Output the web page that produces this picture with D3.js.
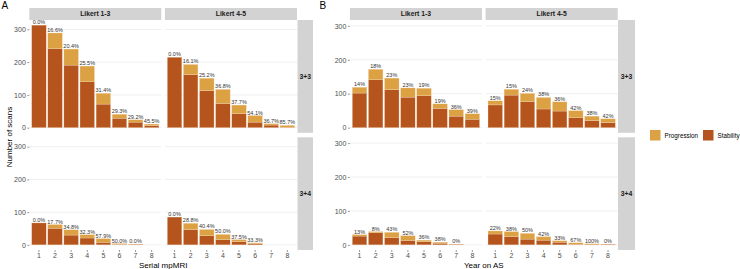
<!DOCTYPE html>
<html lang="en">
  <head>
    <meta charset="UTF-8">
    <title>Progression vs stability by scan and year</title>
    <style>
      body { margin: 0; background: white; }
      svg { font-family: "Liberation Sans", Arial, sans-serif; }
      .axis path { display: none; }
      .axis .tick line { stroke: #555; stroke-width: 0.6; }
      .axis .tick text { fill: #4d4d4d; font-size: 7px; }
      .grid { stroke: #ebebeb; stroke-width: 0.8; }
      .barlab { fill: #333; font-size: 5.5px; }
      .strip { fill: #d3d3d3; }
      .striptext { fill: #1a1a1a; font-size: 6.8px; font-weight: bold; }
      .title { fill: #000; font-size: 8px; }
      .tag { fill: #000; font-size: 10px; }
      .legtext { fill: #000; font-size: 6.3px; }
    </style>
    <script src="https://d3js.org/d3.v7.min.js"></script>
  </head>
  <body>
    <script>
      const categories = ["1", "2", "3", "4", "5", "6", "7", "8"];
      const columnLabels = ["Likert 1-3", "Likert 4-5"];
      const rowLabels = ["3+3", "3+4"];
      const yTicks = [0, 100, 200, 300];

      // panel A: serial mpMRI (total scans, progression scans, label)
      const mri33Likert13Total = [313, 289, 240, 188, 105, 41, 24, 11];
      const mri33Likert13Prog = [0, 48, 49, 48, 33, 12, 7, 5];
      const mri33Likert13Lab = ["0.0%", "16.6%", "20.4%", "25.5%", "31.4%", "29.3%", "29.2%", "45.5%"];
      const mri33Likert45Total = [215, 193, 151, 117, 69, 37, 12, 7];
      const mri33Likert45Prog = [0, 31, 38, 43, 26, 20, 4, 6];
      const mri33Likert45Lab = ["0.0%", "16.1%", "25.2%", "36.8%", "37.7%", "54.1%", "36.7%", "85.7%"];
      const mri34Likert13Total = [67, 62, 46, 31, 19, 4, 2, 0];
      const mri34Likert13Prog = [0, 11, 16, 10, 11, 2, 0, 0];
      const mri34Likert13Lab = ["0.0%", "17.7%", "34.8%", "32.3%", "57.9%", "50.0%", "0.0%", ""];
      const mri34Likert45Total = [85, 66, 47, 32, 16, 6, 0, 0];
      const mri34Likert45Prog = [0, 19, 19, 16, 6, 2, 0, 0];
      const mri34Likert45Lab = ["0.0%", "28.8%", "40.4%", "50.0%", "37.5%", "33.3%", "", ""];

      // panel B: year on AS
      const yr33Likert13Total = [119, 172, 146, 117, 116, 70, 53, 41];
      const yr33Likert13Prog = [17, 31, 34, 27, 22, 13, 19, 16];
      const yr33Likert13Lab = ["14%", "18%", "23%", "23%", "19%", "19%", "36%", "39%"];
      const yr33Likert45Total = [79, 113, 101, 89, 76, 50, 34, 26];
      const yr33Likert45Prog = [12, 17, 24, 34, 27, 21, 13, 11];
      const yr33Likert45Lab = ["15%", "15%", "24%", "38%", "36%", "42%", "38%", "42%"];
      const yr34Likert13Total = [30, 39, 37, 27, 14, 8, 2, 0];
      const yr34Likert13Prog = [4, 3, 16, 14, 5, 3, 0, 0];
      const yr34Likert13Lab = ["13%", "8%", "43%", "52%", "36%", "38%", "0%", ""];
      const yr34Likert45Total = [41, 39, 34, 24, 12, 6, 3, 2];
      const yr34Likert45Prog = [9, 15, 17, 10, 4, 4, 3, 0];
      const yr34Likert45Lab = ["22%", "38%", "50%", "42%", "33%", "67%", "100%", "0%"];

      const colProg = "#dca143";
      const colStab = "#b5541c";

      const svg = d3.select("body")
        .append("svg")
        .attr("width", 740)
        .attr("height", 269);

      const rowsY = [[20, 132.8], [137.3, 250]];

      function buildCells(sets) {
        // sets[row][col] = [total, prog, labels]
        return sets.map(row => row.map(s => categories.map((c, i) => ({
          cat: c, total: s[0][i], prog: s[1][i], stab: s[0][i] - s[1][i], label: s[2][i]
        }))));
      }

      function drawPanel(opts) {
        const cells = buildCells(opts.sets);
        const ymax = opts.ymax;

        opts.cols.forEach((cx, ci) => {
          // top strip
          svg.append("rect").attr("class", "strip")
            .attr("x", cx[0]).attr("y", 8).attr("width", cx[1] - cx[0]).attr("height", 12);
          svg.append("text").attr("class", "striptext")
            .attr("x", (cx[0] + cx[1]) / 2).attr("y", 16.4)
            .attr("text-anchor", "middle").text(columnLabels[ci]);
        });

        rowsY.forEach((ry, ri) => {
          svg.append("rect").attr("class", "strip")
            .attr("x", opts.strip[0]).attr("y", ry[0])
            .attr("width", opts.strip[1] - opts.strip[0]).attr("height", ry[1] - ry[0]);
          svg.append("text").attr("class", "striptext")
            .attr("x", (opts.strip[0] + opts.strip[1]) / 2).attr("y", (ry[0] + ry[1]) / 2 + 2.4)
            .attr("text-anchor", "middle").text(rowLabels[ri]);

          const y = d3.scaleLinear()
            .domain([-0.05 * ymax, 1.05 * ymax])
            .range([ry[1], ry[0]]);

          opts.cols.forEach((cx, ci) => {
            const x = d3.scaleBand()
              .domain(categories)
              .range(cx)
              .paddingInner(0.1)
              .paddingOuter(0.15);

            const g = svg.append("g");

            g.selectAll(".grid")
              .data(yTicks)
              .enter()
              .append("line")
              .attr("class", "grid")
              .attr("x1", cx[0]).attr("x2", cx[1])
              .attr("y1", d => y(d)).attr("y2", d => y(d));

            const data = cells[ri][ci];

            g.selectAll(".stab")
              .data(data.filter(d => d.stab > 0))
              .enter()
              .append("rect")
              .attr("x", d => x(d.cat))
              .attr("width", x.bandwidth())
              .attr("y", d => y(d.stab))
              .attr("height", d => y(0) - y(d.stab))
              .attr("fill", colStab)
              .attr("stroke", "#f3d9bd")
              .attr("stroke-width", 0.3);

            g.selectAll(".prog")
              .data(data.filter(d => d.prog > 0))
              .enter()
              .append("rect")
              .attr("x", d => x(d.cat))
              .attr("width", x.bandwidth())
              .attr("y", d => y(d.total))
              .attr("height", d => y(d.stab) - y(d.total))
              .attr("fill", colProg)
              .attr("stroke", "#f3d9bd")
              .attr("stroke-width", 0.3);

            g.selectAll(".barlab")
              .data(data.filter(d => d.label !== ""))
              .enter()
              .append("text")
              .attr("class", "barlab")
              .attr("x", d => x(d.cat) + x.bandwidth() / 2)
              .attr("y", d => y(d.total) - 1)
              .attr("text-anchor", "middle")
              .text(d => d.label);

            if (ci === 0) {
              svg.append("g")
                .attr("class", "axis")
                .attr("transform", `translate(${cx[0]},0)`)
                .call(d3.axisLeft(y).tickValues(yTicks).tickSize(2).tickPadding(1.5));
            }
            if (ri === 1) {
              svg.append("g")
                .attr("class", "axis")
                .attr("transform", `translate(0,${ry[1]})`)
                .call(d3.axisBottom(x).tickSize(2).tickPadding(1.5));
            }
          });
        });

        const xm = (opts.cols[0][0] + opts.cols[1][1]) / 2;
        svg.append("text").attr("class", "title")
          .attr("x", xm).attr("y", 267.5)
          .attr("text-anchor", "middle").text(opts.xTitle);

        svg.append("text").attr("class", "tag")
          .attr("x", opts.tagX).attr("y", 9).text(opts.tag);
      }

      drawPanel({
        tag: "A", tagX: 1.5,
        cols: [[29.3, 161.3], [164.9, 297]],
        strip: [297.5, 313],
        ymax: 313,
        xTitle: "Serial mpMRI",
        sets: [
          [[mri33Likert13Total, mri33Likert13Prog, mri33Likert13Lab],
           [mri33Likert45Total, mri33Likert45Prog, mri33Likert45Lab]],
          [[mri34Likert13Total, mri34Likert13Prog, mri34Likert13Lab],
           [mri34Likert45Total, mri34Likert45Prog, mri34Likert45Lab]]
        ]
      });

      drawPanel({
        tag: "B", tagX: 319.5,
        cols: [[349.9, 482], [485.6, 617.7]],
        strip: [618, 635],
        ymax: 302,
        xTitle: "Year on AS",
        sets: [
          [[yr33Likert13Total, yr33Likert13Prog, yr33Likert13Lab],
           [yr33Likert45Total, yr33Likert45Prog, yr33Likert45Lab]],
          [[yr34Likert13Total, yr34Likert13Prog, yr34Likert13Lab],
           [yr34Likert45Total, yr34Likert45Prog, yr34Likert45Lab]]
        ]
      });

      // y title only on panel A
      svg.append("text").attr("class", "title")
        .attr("transform", "translate(12,137) rotate(-90)")
        .attr("text-anchor", "middle")
        .text("Number of scans");

      // legend
      const legend = [["Progression", colProg, 650, 664.5], ["Stability", colStab, 703, 717.5]];
      legend.forEach(l => {
        svg.append("rect")
          .attr("x", l[2]).attr("y", 130)
          .attr("width", 10.5).attr("height", 10.5)
          .attr("fill", l[1]);
        svg.append("text").attr("class", "legtext")
          .attr("x", l[3]).attr("y", 137.6)
          .text(l[0]);
      });
    </script>
  </body>
</html>
